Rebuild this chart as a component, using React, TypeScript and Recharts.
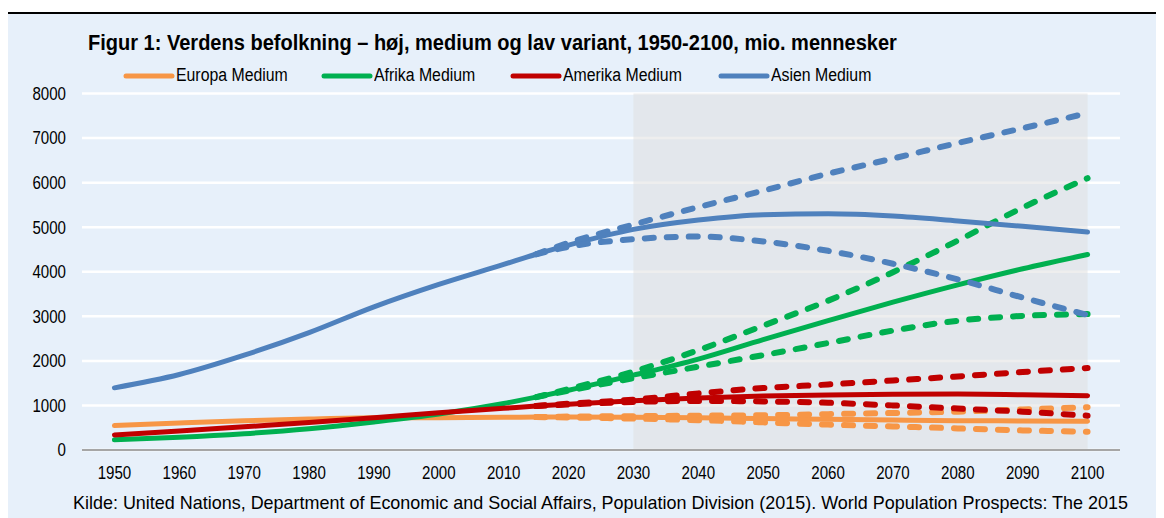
import React from 'react';
import {
  ComposedChart,
  Line,
  XAxis,
  YAxis,
  CartesianGrid,
  ReferenceArea,
  Legend,
} from 'recharts';

// År (x-akse) og tick-etiketter
const years = [1950, 1960, 1970, 1980, 1990, 2000, 2010, 2015, 2020, 2030, 2040, 2050, 2060, 2070, 2080, 2090, 2100];
const xTicks = [1950, 1960, 1970, 1980, 1990, 2000, 2010, 2020, 2030, 2040, 2050, 2060, 2070, 2080, 2090, 2100];
const yTicks = [0, 1000, 2000, 3000, 4000, 5000, 6000, 7000, 8000];

// Medium variant (mio. mennesker)
const europaMedium = [549, 606, 657, 694, 721, 726, 736, 738, 740, 734, 723, 707, 689, 673, 659, 653, 646];
const afrikaMedium = [229, 285, 366, 478, 630, 808, 1044, 1186, 1340, 1679, 2041, 2478, 2903, 3318, 3707, 4067, 4387];
const amerikaMedium = [339, 425, 521, 616, 722, 837, 935, 987, 1027, 1105, 1165, 1210, 1235, 1250, 1255, 1240, 1220];
const asienMedium = [1395, 1694, 2128, 2634, 3213, 3717, 4165, 4393, 4598, 4950, 5160, 5280, 5300, 5250, 5140, 5020, 4890];

// Høj og lav variant (fra 2015)
const europaHoej = [null, null, null, null, null, null, null, 738, 750, 760, 770, 780, 805, 830, 860, 910, 960];
const europaLav = [null, null, null, null, null, null, null, 738, 730, 705, 670, 620, 570, 530, 485, 440, 410];
const afrikaHoej = [null, null, null, null, null, null, null, 1186, 1370, 1760, 2240, 2790, 3350, 3990, 4700, 5440, 6100];
const afrikaLav = [null, null, null, null, null, null, null, 1186, 1330, 1610, 1870, 2130, 2400, 2680, 2900, 3010, 3050];
const amerikaHoej = [null, null, null, null, null, null, null, 987, 1040, 1130, 1270, 1390, 1470, 1560, 1650, 1750, 1840];
const amerikaLav = [null, null, null, null, null, null, null, 987, 1020, 1080, 1100, 1090, 1060, 1000, 930, 860, 770];
const asienHoej = [null, null, null, null, null, null, null, 4393, 4650, 5060, 5450, 5820, 6200, 6540, 6890, 7220, 7560];
const asienLav = [null, null, null, null, null, null, null, 4393, 4560, 4730, 4790, 4680, 4470, 4180, 3830, 3420, 3030];

const legendNames = ['Europa Medium', 'Afrika Medium', 'Amerika Medium', 'Asien Medium'];
const colors = ['#F79646', '#00B050', '#C00000', '#4F81BD'];

const data = years.map((year, i) => ({
  year,
  europaMedium: europaMedium[i],
  europaHoej: europaHoej[i],
  europaLav: europaLav[i],
  afrikaMedium: afrikaMedium[i],
  afrikaHoej: afrikaHoej[i],
  afrikaLav: afrikaLav[i],
  amerikaMedium: amerikaMedium[i],
  amerikaHoej: amerikaHoej[i],
  amerikaLav: amerikaLav[i],
  asienMedium: asienMedium[i],
  asienHoej: asienHoej[i],
  asienLav: asienLav[i],
}));

const regions = ['europa', 'afrika', 'amerika', 'asien'];

// ingen smal skrift installeret, så den almindelige presses sammen
const FONT = '"Liberation Sans", Arial, sans-serif';

// venstre kant for hver legend-post (relativt til legend-boksen)
const legendOffsets = [0, 198, 387, 595];

const renderLegend = () => (
  <div style={{ position: 'relative', height: 22, fontFamily: FONT, fontSize: 18, color: '#000' }}>
    {legendNames.map((name, i) => (
      <div
        key={name}
        style={{ position: 'absolute', left: legendOffsets[i], top: 0, display: 'flex', alignItems: 'center', whiteSpace: 'nowrap' }}
      >
        <svg width={52} height={10}>
          <line x1={3} y1={5} x2={49} y2={5} stroke={colors[i]} strokeWidth={5} strokeLinecap="round" />
        </svg>
        <span style={{ display: 'inline-block', transform: 'scaleX(0.88)', transformOrigin: 'left center', marginLeft: 1 }}>
          {name}
        </span>
      </div>
    ))}
  </div>
);

const XTick = (props: any) => {
  const { x, y, payload } = props;
  return (
    <g transform={`translate(${x},${y})`}>
      <text textAnchor="middle" dy="0.71em" fill="#000" fontSize={18} fontFamily={FONT} transform="scale(0.84,1)">
        {payload.value}
      </text>
    </g>
  );
};

const YTick = (props: any) => {
  const { x, y, payload } = props;
  return (
    <g transform={`translate(${x},${y})`}>
      <text textAnchor="end" dy="0.355em" fill="#000" fontSize={18} fontFamily={FONT} transform="scale(0.84,1)">
        {payload.value}
      </text>
    </g>
  );
};

export default function App() {
  return (
    <div
      style={{
        position: 'relative',
        width: 1156,
        height: 510,
        background: '#fff',
        overflow: 'hidden',
      }}
    >
      <div
        style={{
          position: 'absolute',
          left: 0,
          top: 4,
          width: 1156,
          height: 506,
          background: '#E7F0FA',
          borderTop: '2px solid #000',
        }}
      />
      {/* Titel */}
      <div
        style={{
          position: 'absolute',
          left: 80,
          top: 22,
          fontFamily: FONT,
          fontWeight: 'bold',
          fontSize: 22,
          color: '#000',
          whiteSpace: 'nowrap',
          transform: 'scaleX(0.91)',
          transformOrigin: 'left center',
        }}
      >
        Figur 1: Verdens befolkning – høj, medium og lav variant, 1950-2100, mio. mennesker
      </div>
      <div style={{ position: 'absolute', left: 0, top: 0 }}>
        <ComposedChart
          width={1156}
          height={510}
          data={data}
          margin={{ top: 63.5, right: 44, left: 14, bottom: 38 }}
        >
          <CartesianGrid vertical={false} stroke="#FFFFFF" strokeWidth={2.5} />
          <ReferenceArea x1={2030} x2={2100} y1={0} y2={8000} fill="#E0E0E0" fillOpacity={0.56} stroke="none" />
          <XAxis
            dataKey="year"
            type="number"
            domain={[1945, 2105]}
            ticks={xTicks}
            tickLine={false}
            axisLine={{ stroke: '#A6A6A6', strokeWidth: 2 }}
            tick={<XTick />}
            tickMargin={10}
            height={30}
            allowDataOverflow
          />
          <YAxis
            domain={[0, 8000]}
            ticks={yTicks}
            tickLine={false}
            axisLine={false}
            tick={<YTick />}
            tickSize={0}
            tickMargin={16}
            width={60}
          />
          <Legend
            verticalAlign="top"
            content={renderLegend}
            wrapperStyle={{ position: 'absolute', left: 115, top: 57, width: 900 }}
          />
          {regions.map((r, i) => [
            <Line
              key={r + 'Medium'}
              dataKey={r + 'Medium'}
              type="monotone"
              stroke={colors[i]}
              strokeWidth={5}
              strokeLinecap="round"
              dot={false}
              connectNulls
              isAnimationActive={false}
            />,
            <Line
              key={r + 'Hoej'}
              dataKey={r + 'Hoej'}
              type="monotone"
              stroke={colors[i]}
              strokeWidth={6}
              strokeDasharray="9 13"
              strokeLinecap="round"
              dot={false}
              legendType="none"
              isAnimationActive={false}
            />,
            <Line
              key={r + 'Lav'}
              dataKey={r + 'Lav'}
              type="monotone"
              stroke={colors[i]}
              strokeWidth={6}
              strokeDasharray="9 13"
              strokeLinecap="round"
              dot={false}
              legendType="none"
              isAnimationActive={false}
            />,
          ])}
        </ComposedChart>
      </div>
      {/* Kilde */}
      <div
        style={{
          position: 'absolute',
          left: 65,
          top: 484,
          fontFamily: FONT,
          fontSize: 19,
          color: '#000',
          whiteSpace: 'nowrap',
          transform: 'scaleX(0.945)',
          transformOrigin: 'left center',
        }}
      >
        Kilde: United Nations, Department of Economic and Social Affairs, Population Division (2015). World Population Prospects: The 2015
      </div>
    </div>
  );
}
